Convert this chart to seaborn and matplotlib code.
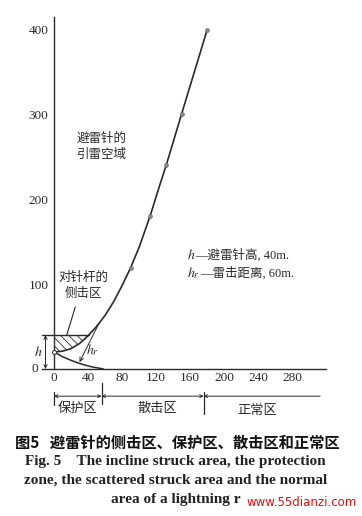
import matplotlib
matplotlib.use('Agg')
import matplotlib.pyplot as plt
import seaborn as sns
import numpy as np
import pandas as pd

sns.set_theme(style='white')
plt.rcParams['font.family'] = ['Liberation Serif', 'Noto Sans CJK SC', 'DejaVu Sans']
plt.rcParams['mathtext.fontset'] = 'stix'
plt.rcParams['hatch.linewidth'] = 0.6

# strike boundary curve
curve_x = [0, 10, 20, 30, 40, 50, 60, 70, 80, 90, 100, 113, 122, 132, 141, 150, 160, 170, 180]
curve_y = [20, 21, 24, 30, 39, 50, 63, 79, 98, 119, 143, 180, 209, 240, 270, 300, 333, 366, 399]
# marked points on the curve
mark_x = [90, 113, 132, 150, 180]
mark_y = [119, 180, 240, 300, 399]
# lower arc from rod to ground
arc_x = [0, 10, 19, 28, 36, 45, 54, 58]
arc_y = [20, 14.5, 10.6, 7.2, 4.7, 2.4, 0.8, 0]
# hatched incline-struck area (curve part below rod height)
hatch_x = [0, 10, 20, 30, 40]
hatch_y = [20, 21, 24, 30, 39]
rod_h = 40

x_ticks = [0, 40, 80, 120, 160, 200, 240, 280]
y_ticks = [0, 100, 200, 300, 400]
y_ticklabels = ['', '100', '200', '300', '400']
zone_edges = [0, 56, 176, 313]
zone_labels = ['保护区', '散击区', '正常区']

ink = '#2a2a2a'
fig = plt.figure(figsize=(3.62, 5.16), dpi=100)
ax = fig.add_axes([0.1163, 0.2849, 0.7843, 0.6828])

df = pd.DataFrame({'x': curve_x, 'y': curve_y})
sns.lineplot(data=df, x='x', y='y', ax=ax, color=ink, lw=1.2, sort=False, estimator=None)
sns.lineplot(x=arc_x, y=arc_y, ax=ax, color=ink, lw=1.1, sort=False, estimator=None)
sns.scatterplot(x=mark_x, y=mark_y, ax=ax, color='#888888', s=8, edgecolor='#666666', linewidth=0.4, zorder=3)
ax.scatter([0], [20], s=8, facecolor='white', edgecolor=ink, lw=0.7, zorder=4, clip_on=False)

ax.fill_between(hatch_x, hatch_y, rod_h, facecolor='none', edgecolor=ink, hatch='\\\\\\\\', linewidth=0)
ax.plot([-14, 41], [rod_h, rod_h], color=ink, lw=1.0, clip_on=False)

ax.set_xlim(-14, 320)
ax.set_ylim(0, 415)
ax.spines['left'].set_position(('data', 0))
for s in ['top', 'right']:
    ax.spines[s].set_visible(False)
for s in ['left', 'bottom']:
    ax.spines[s].set_color(ink)
    ax.spines[s].set_linewidth(1.0)
ax.set_xticks(x_ticks)
ax.set_yticks(y_ticks)
ax.set_yticklabels(y_ticklabels)
ax.tick_params(axis='x', direction='in', length=3, width=0.8, color=ink, pad=2, labelsize=9.5, labelcolor=ink)
ax.tick_params(axis='y', direction='out', length=3, width=0.8, color=ink, pad=1, labelsize=9.5, labelcolor=ink)
ax.set_xlabel('')
ax.set_ylabel('')
ax.text(-22, 0, '0', fontsize=9.5, ha='center', va='center', color=ink)

# h dimension
ax.annotate('', xy=(-10, 0), xytext=(-10, rod_h), arrowprops=dict(arrowstyle='<->', color=ink, lw=0.7, mutation_scale=6, shrinkA=0, shrinkB=0), annotation_clip=False)
ax.text(-19, 20, '$h$', fontsize=10, ha='center', va='center', color=ink)
# h_r arrow
ax.annotate('', xy=(30, 8), xytext=(53, 54), arrowprops=dict(arrowstyle='->', color=ink, lw=0.7, mutation_scale=7, shrinkA=0, shrinkB=0))
ax.text(45, 22, '$h_r$', fontsize=10, ha='center', va='center', color=ink)

# leader line to hatched area
ax.plot([25, 15], [73, 40], color=ink, lw=0.8)
ax.text(35, 98, '对针杆的\n侧击区', fontsize=9, ha='center', va='center', color=ink, linespacing=1.3, family='Noto Sans CJK SC')
ax.text(56, 262, '避雷针的\n引雷空域', fontsize=9, ha='center', va='center', color=ink, linespacing=1.3, family='Noto Sans CJK SC')

ax.text(156, 134, '$h$', fontsize=10, ha='left', va='center', color=ink)
ax.annotate('—避雷针高, 40m.', xy=(156, 134), xytext=(6, 0), textcoords='offset points', fontsize=9, ha='left', va='center', color=ink)
ax.text(156, 113, '$h_r$', fontsize=10, ha='left', va='center', color=ink)
ax.annotate('—雷击距离, 60m.', xy=(156, 113), xytext=(10, 0), textcoords='offset points', fontsize=9, ha='left', va='center', color=ink)

# zones below the axis
bars = [(-27, -42), (-16, -41), (-27, -53)]
for xe, (y0, y1) in zip(zone_edges[:3], bars):
    ax.plot([xe, xe], [y0, y1], color=ink, lw=0.9, clip_on=False)
arr_y = -32
ax.annotate('', xy=(zone_edges[0], arr_y), xytext=(zone_edges[1], arr_y), arrowprops=dict(arrowstyle='<->', color=ink, lw=0.7, mutation_scale=5, shrinkA=0, shrinkB=0), annotation_clip=False)
ax.annotate('', xy=(zone_edges[1], arr_y), xytext=(zone_edges[2], arr_y), arrowprops=dict(arrowstyle='<->', color=ink, lw=0.7, mutation_scale=5, shrinkA=0, shrinkB=0), annotation_clip=False)
ax.annotate('', xy=(zone_edges[2], arr_y), xytext=(zone_edges[3], arr_y), arrowprops=dict(arrowstyle='->', color=ink, lw=0.7, mutation_scale=5, shrinkA=0, shrinkB=0), annotation_clip=False)
label_pos = [(28, -46), (121, -46), (239, -49)]
for lab, (lx, ly) in zip(zone_labels, label_pos):
    ax.text(lx, ly, lab, fontsize=9.5, ha='center', va='center', color=ink, family='Noto Sans CJK SC')

# caption
fig.text(0.49, 1 - 443 / 516, '图5   避雷针的侧击区、保护区、散击区和正常区', fontsize=11, weight='bold',
         ha='center', va='center', color='#111111', family=['Noto Sans CJK SC', 'DejaVu Sans'])
cap = ['Fig. 5    The incline struck area, the protection',
       'zone, the scattered struck area and the normal',
       'area of a lightning r']
cap_y = [462, 480, 499]
for line, yy in zip(cap, cap_y):
    fig.text(0.485, 1 - yy / 516, line, fontsize=11, weight='bold', ha='center', va='center', color='#222222')
fig.text(0.834, 1 - 503 / 516, 'www.55dianzi.com', fontsize=8.5, color='#e01010', ha='center', va='center', family='DejaVu Sans')

fig.savefig('out.png', dpi=100)
